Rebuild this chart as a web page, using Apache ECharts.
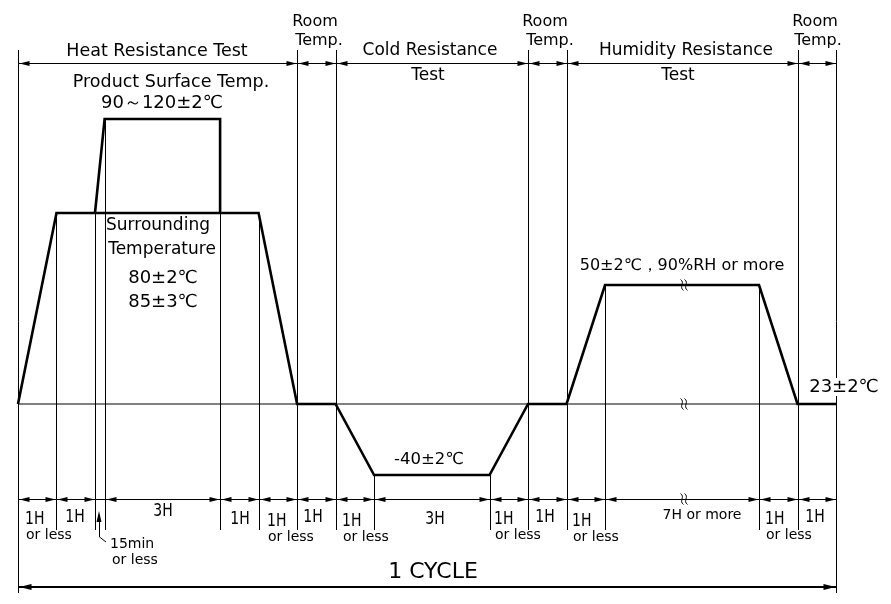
<!DOCTYPE html>
<html><head><meta charset="utf-8">
<script src="https://cdn.jsdelivr.net/npm/echarts@6/dist/echarts.min.js"></script>
<style>html,body{margin:0;padding:0;background:#fff}#c{width:891px;height:604px}</style>
</head><body><div id="c"></div>
<script>
// ---------------- data ----------------
// drawn duration of each step (hours; the 7H step is drawn shortened with a break mark)
const segmentHours = [1, 1, 0.25, 3, 1, 1, 1, 1, 3, 1, 1, 1, 4, 1, 1];
const segmentLabels = ['1H|or less', '1H', '', '3H', '1H', '1H|or less', '1H', '1H|or less', '3H', '1H|or less', '1H', '1H|or less', '7H or more', '1H|or less', '1H'];
// boundary indices that close each test section (top dimension line)
const sectionEnds = [6, 7, 10, 11, 14, 15];
const sectionTitles = ['Heat Resistance Test', 'Room Temp.', 'Cold Resistance Test', 'Room Temp.', 'Humidity Resistance Test', 'Room Temp.'];
// schematic diagram levels (room temperature = 0)
const levelRoom = 0, levelHeat = 191, levelProduct = 285, levelHumid = 119, levelCold = -71;
// surrounding temperature profile
const profileTime  = [0, 1, 6.25, 7.25, 8.25, 9.25, 12.25, 13.25, 14.25, 15.25, 19.25, 20.25, 21.25];
const profileLevel = [levelRoom, levelHeat, levelHeat, levelRoom, levelRoom, levelCold, levelCold, levelRoom, levelRoom, levelHumid, levelHumid, levelRoom, levelRoom];
// product surface temperature
const productTime  = [2, 2.25, 5.25, 5.25];
const productLevel = [levelHeat, levelProduct, levelProduct, levelHeat];
// temperature annotations
const tempTexts = ['90～120±2℃', '80±2℃', '85±3℃', '50±2℃，90%RH or more', '23±2℃', '-40±2℃'];

// ---------------- derived ----------------
const bounds = [0];
segmentHours.forEach(h => bounds.push(bounds[bounds.length - 1] + h));
const topLevel = 354, tickBottom = -126, frameBottom = -189;
const dimTop = 341, dimBottom = -95, dimCycle = -183;
const sectionSet = new Set([0].concat(sectionEnds));
function profileAt(t) {
  let best = -Infinity;
  const check = (T, L) => { for (let i = 0; i < T.length; i++) if (Math.abs(T[i] - t) < 1e-9) best = Math.max(best, L[i]); };
  check(profileTime, profileLevel); check(productTime, productLevel);
  return best;
}
const verticals = bounds.map((t, i) => {
  const top = sectionSet.has(i) ? topLevel : (profileAt(t) > -Infinity ? profileAt(t) : levelHeat);
  const bottom = (i === 0 || i === bounds.length - 1) ? frameBottom : tickBottom;
  return [t, top, bottom];
});
const dims = [];
let prev = 0;
sectionEnds.forEach(e => { dims.push([bounds[prev], bounds[e], dimTop, 1, 1]); prev = e; });
for (let i = 0; i < segmentHours.length; i++) dims.push([bounds[i], bounds[i + 1], dimBottom, segmentHours[i] >= 0.5 ? 1 : 0, 1]);
dims.push([bounds[0], bounds[bounds.length - 1], dimCycle, 1, 2]);
const breakTime = 17.3;
const breaks = [[breakTime, levelHumid], [breakTime, levelRoom], [breakTime, dimBottom]];

// ---------------- render ----------------
const FONT = '"DejaVu Sans", sans-serif';
function vItem(p, api) {
  const a = api.coord([api.value(0), api.value(1)]), b = api.coord([api.value(0), api.value(2)]);
  const x = Math.round(a[0]) + 0.5;
  return { type: 'line', shape: { x1: x, y1: Math.round(a[1]), x2: x, y2: Math.round(b[1]) }, style: { stroke: '#000', lineWidth: 1 } };
}
function dimItem(p, api) {
  const a = api.coord([api.value(0), api.value(2)]), b = api.coord([api.value(1), api.value(2)]);
  const lw = api.value(4), arrows = api.value(3);
  const y = Math.round(a[1]) + (lw === 1 ? 0.5 : 0);
  const x1 = Math.round(a[0]) + 0.5, x2 = Math.round(b[0]) + 0.5;
  const L = lw === 1 ? 10 : 12, H = lw === 1 ? 2.6 : 3;
  const ch = [{ type: 'line', shape: { x1, y1: y, x2, y2: y }, style: { stroke: '#000', lineWidth: lw } }];
  if (arrows) {
    ch.push({ type: 'polygon', shape: { points: [[x1 + 1, y], [x1 + 1 + L, y - H], [x1 + 1 + L, y + H]] }, style: { fill: '#000' } });
    ch.push({ type: 'polygon', shape: { points: [[x2 - 1, y], [x2 - 1 - L, y - H], [x2 - 1 - L, y + H]] }, style: { fill: '#000' } });
  }
  return { type: 'group', children: ch };
}
function breakItem(p, api) {
  const a = api.coord([api.value(0), api.value(1)]);
  const cx = Math.round(a[0]), cy = Math.round(a[1]);
  const ch = [-2, 2].map(d => ({
    type: 'bezierCurve',
    shape: { x1: cx + d - 1.5, y1: cy - 5.5, cpx1: cx + d + 3.5, cpy1: cy - 2, cpx2: cx + d - 3.5, cpy2: cy + 2, x2: cx + d + 1.5, y2: cy + 5.5 },
    style: { stroke: '#000', lineWidth: 1, fill: null }
  }));
  return { type: 'group', children: ch };
}

// text layout (pixel positions)
function T(text, x, y, size, align, extra) {
  return Object.assign({ type: 'text', x, y, z: 20, style: { text, font: size + 'px ' + FONT, fill: '#000', align: align || 'center', verticalAlign: 'middle' } }, extra || {});
}
const secText = [];
secText.push(T('Heat Resistance Test', 157, 51, 17.5));
[[315, 319], [545, 550], [815, 818]].forEach(([a, b]) => { secText.push(T('Room', a, 22, 16)); secText.push(T('Temp.', b, 41, 16)); });
secText.push(T('Cold Resistance', 430, 51, 17));
secText.push(T('Test', 428, 76, 17));
secText.push(T('Humidity Resistance', 686, 51, 17));
secText.push(T('Test', 678, 76, 17));
secText.push(T('Product Surface Temp.', 171, 82, 17.5));
secText.push(T(tempTexts[0], 162, 103, 18));
secText.push(T('Surrounding', 158, 226, 17));
secText.push(T('Temperature', 162, 250, 17));
secText.push(T(tempTexts[1], 163, 278, 18));
secText.push(T(tempTexts[2], 163, 302, 18));
secText.push(T(tempTexts[3], 682, 266, 16));
secText.push(Object.assign(T(tempTexts[4], 844, 387, 18), { style: { text: tempTexts[4], font: '18px ' + FONT, fill: '#000', align: 'center', verticalAlign: 'middle', backgroundColor: '#fff', padding: [0, 1] } }));
secText.push(T(tempTexts[5], 429, 460, 16.5));
secText.push(T('1 CYCLE', 433, 572, 22));
// segment label layout: [x, align, y of first line]
const segLayout = [[25, 'left', 520], [75, 'center', 518], null, [163, 'center', 512], [240, 'center', 520], [267, 'left', 522], [313, 'center', 518], [342, 'left', 522], [435, 'center', 520], [494, 'left', 520], [545, 'center', 518], [572, 'left', 522], [702, 'center', 515], [765, 'left', 520], [815, 'center', 518]];
segmentLabels.forEach((lab, i) => {
  if (!lab) return;
  const [x, al, y] = segLayout[i];
  const parts = lab.split('|');
  const big = /^\dH$/.test(parts[0]);
  secText.push(T(parts[0], x, y, 14, al, big ? { scaleY: 1.22 } : {}));
  if (parts[1]) secText.push(T(parts[1], x + 1, y + 15, 14, al));
});
secText.push(T('15min', 110, 544, 14, 'left'));
secText.push(T('or less', 112, 560, 14, 'left'));
const graphics = secText.concat([
  { type: 'polygon', z: 20, shape: { points: [[99, 511], [96.5, 522], [101.5, 522]] }, style: { fill: '#000' } },
  { type: 'polyline', z: 20, shape: { points: [[99.5, 522], [99.5, 537], [106, 542]] }, style: { stroke: '#000', lineWidth: 1, fill: null } }
]);

const chart = echarts.init(document.getElementById('c'), null, { renderer: 'canvas' });
chart.setOption({
  animation: false,
  backgroundColor: '#fff',
  grid: { left: 18, right: 55, top: 0, bottom: 0 },
  xAxis: { type: 'value', min: 0, max: bounds[bounds.length - 1], show: false },
  yAxis: { type: 'value', min: -200, max: 404, show: false },
  series: [
    { type: 'line', silent: true, clip: false, symbol: 'none', z: 1, data: [[0, levelRoom], [22.52, levelRoom]], lineStyle: { color: '#000', width: 1 } },
    { type: 'custom', silent: true, clip: false, z: 2, renderItem: vItem, data: verticals },
    { type: 'line', silent: true, clip: false, symbol: 'none', z: 5, data: profileTime.map((t, i) => [t, profileLevel[i]]), lineStyle: { color: '#000', width: 2.6, join: 'miter' } },
    { type: 'line', silent: true, clip: false, symbol: 'none', z: 5, data: productTime.map((t, i) => [t, productLevel[i]]), lineStyle: { color: '#000', width: 2.6, join: 'miter' } },
    { type: 'custom', silent: true, clip: false, z: 6, renderItem: dimItem, data: dims },
    { type: 'custom', silent: true, clip: false, z: 7, renderItem: breakItem, data: breaks }
  ],
  graphic: graphics
});
</script></body></html>
